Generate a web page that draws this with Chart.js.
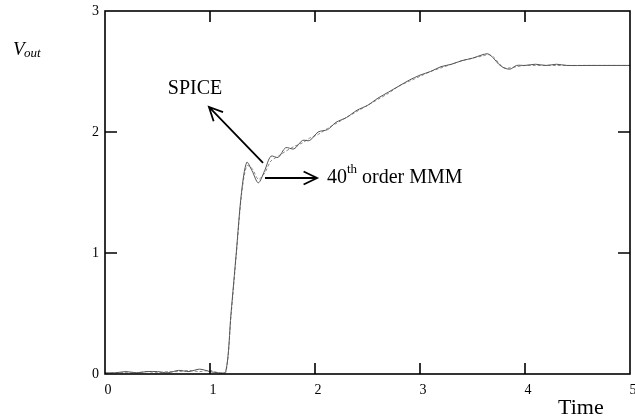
<!DOCTYPE html>
<html>
<head>
<meta charset="utf-8">
<script src="https://cdn.jsdelivr.net/npm/chart.js@4/dist/chart.umd.min.js"></script>
<style>
  body { margin: 0; background: #fff; }
</style>
</head>
<body>
<canvas id="voutChart" width="635" height="420"></canvas>
<script>
// Vout step response, SPICE vs 40th order MMM
var timeValues = [0, 0.1, 0.2, 0.3, 0.4, 0.5, 0.6, 0.7, 0.8, 0.9, 1.0, 1.08, 1.15, 1.2, 1.25, 1.3, 1.35, 1.4, 1.46, 1.52, 1.58, 1.65, 1.72, 1.8, 1.88, 1.95, 2.03, 2.12, 2.2, 2.3, 2.4, 2.5, 2.6, 2.7, 2.8, 2.9, 3.0, 3.1, 3.2, 3.3, 3.4, 3.5, 3.6, 3.65, 3.7, 3.75, 3.8, 3.86, 3.92, 4.0, 4.1, 4.2, 4.3, 4.4, 4.6, 4.8, 5.0];
var spiceValues = [0.01, 0.01, 0.02, 0.01, 0.02, 0.02, 0.01, 0.03, 0.02, 0.04, 0.02, 0.01, 0.02, 0.5, 1.0, 1.5, 1.75, 1.68, 1.58, 1.68, 1.8, 1.79, 1.87, 1.86, 1.93, 1.93, 2.0, 2.02, 2.08, 2.12, 2.18, 2.22, 2.28, 2.33, 2.38, 2.43, 2.47, 2.5, 2.54, 2.56, 2.59, 2.61, 2.64, 2.645, 2.61, 2.56, 2.53, 2.52, 2.55, 2.55, 2.56, 2.55, 2.56, 2.55, 2.55, 2.55, 2.55];
var mmmValues = [0.0, 0.01, 0.01, 0.01, 0.02, 0.01, 0.02, 0.02, 0.03, 0.02, 0.03, 0.01, 0.01, 0.48, 0.98, 1.48, 1.72, 1.7, 1.61, 1.66, 1.76, 1.8, 1.84, 1.88, 1.91, 1.95, 1.98, 2.03, 2.07, 2.12, 2.17, 2.22, 2.27, 2.32, 2.38, 2.42, 2.46, 2.5, 2.53, 2.56, 2.59, 2.61, 2.63, 2.64, 2.62, 2.57, 2.53, 2.53, 2.54, 2.55, 2.55, 2.55, 2.55, 2.55, 2.55, 2.55, 2.55];
var xTicks = [0, 1, 2, 3, 4, 5];
var yTicks = [0, 1, 2, 3];

var serif = '"Liberation Serif", "Times New Roman", serif';

function toPoints(values) {
  return timeValues.map(function (t, i) { return { x: t, y: values[i] }; });
}

function arrow(ctx, x1, y1, x2, y2) {
  var ang = Math.atan2(y2 - y1, x2 - x1);
  var len = 15, spread = 0.45;
  ctx.beginPath();
  ctx.moveTo(x1, y1);
  ctx.lineTo(x2, y2);
  ctx.moveTo(x2 - len * Math.cos(ang - spread), y2 - len * Math.sin(ang - spread));
  ctx.lineTo(x2, y2);
  ctx.lineTo(x2 - len * Math.cos(ang + spread), y2 - len * Math.sin(ang + spread));
  ctx.stroke();
}

// box with inward ticks, labels and arrows
var framePlugin = {
  id: 'frame',
  afterDatasetsDraw: function (chart) {
    var ctx = chart.ctx, a = chart.chartArea;
    var xs = chart.scales.x, ys = chart.scales.y;
    ctx.save();
    ctx.strokeStyle = '#000';
    ctx.lineWidth = 1.6;
    ctx.strokeRect(a.left, a.top, a.right - a.left, a.bottom - a.top);
    ctx.beginPath();
    xTicks.slice(1, -1).forEach(function (v) {
      var px = xs.getPixelForValue(v);
      ctx.moveTo(px, a.bottom); ctx.lineTo(px, a.bottom - 11);
      ctx.moveTo(px, a.top); ctx.lineTo(px, a.top + 11);
    });
    yTicks.slice(1, -1).forEach(function (v) {
      var py = ys.getPixelForValue(v);
      ctx.moveTo(a.left, py); ctx.lineTo(a.left + 12, py);
      ctx.moveTo(a.right, py); ctx.lineTo(a.right - 12, py);
    });
    ctx.stroke();

    // arrows
    ctx.lineWidth = 1.8;
    arrow(ctx, xs.getPixelForValue(1.505), ys.getPixelForValue(1.744), xs.getPixelForValue(0.99), ys.getPixelForValue(2.207));
    arrow(ctx, xs.getPixelForValue(1.524), ys.getPixelForValue(1.62), xs.getPixelForValue(2.02), ys.getPixelForValue(1.62));

    ctx.fillStyle = '#000';
    ctx.textBaseline = 'middle';
    ctx.font = '20px ' + serif;
    ctx.textAlign = 'center';
    ctx.fillText('SPICE', xs.getPixelForValue(0.857), ys.getPixelForValue(2.355));

    ctx.textAlign = 'left';
    var tx = xs.getPixelForValue(2.114), ty = ys.getPixelForValue(1.62);
    ctx.font = '20px ' + serif;
    ctx.fillText('40', tx, ty);
    var w = ctx.measureText('40').width;
    ctx.font = '13px ' + serif;
    ctx.fillText('th', tx + w, ty - 8);
    var w2 = ctx.measureText('th').width;
    ctx.font = '20px ' + serif;
    ctx.fillText(' order MMM', tx + w + w2, ty);

    // axis titles
    ctx.font = '22px ' + serif;
    ctx.textAlign = 'left';
    ctx.fillText('Time', 558, 408);
    ctx.font = 'italic 19px ' + serif;
    ctx.fillText('V', 13, 50);
    ctx.font = 'italic 13px ' + serif;
    ctx.fillText('out', 24, 54);
    ctx.restore();
  }
};

var ctx = document.getElementById('voutChart').getContext('2d');
var voutChart = new Chart(ctx, {
  type: 'line',
  data: {
    datasets: [{
      label: 'SPICE',
      data: toPoints(spiceValues),
      borderColor: '#555',
      borderWidth: 1,
      pointRadius: 0,
      tension: 0.3
    }, {
      label: '40th order MMM',
      data: toPoints(mmmValues),
      borderColor: '#888',
      borderWidth: 1,
      borderDash: [3, 2],
      pointRadius: 0,
      tension: 0.3
    }]
  },
  options: {
    responsive: false,
    animation: false,
    devicePixelRatio: 1,
    layout: { padding: { top: 11, right: 5, left: 0, bottom: 0 } },
    plugins: { legend: { display: false }, tooltip: { enabled: false } },
    scales: {
      x: {
        type: 'linear',
        min: 0, max: 5,
        afterBuildTicks: function (s) { s.ticks = xTicks.map(function (v) { return { value: v }; }); },
        afterFit: function (s) { s.height = 46; s.paddingLeft = 0; s.paddingRight = 0; },
        grid: { display: false, drawTicks: false },
        border: { display: false },
        ticks: { color: '#000', padding: 8, labelOffset: 3, maxRotation: 0, font: { family: serif, size: 14 } }
      },
      y: {
        min: 0, max: 3,
        afterBuildTicks: function (s) { s.ticks = yTicks.map(function (v) { return { value: v }; }); },
        afterFit: function (s) { s.width = 105; s.paddingTop = 0; s.paddingBottom = 0; },
        grid: { display: false, drawTicks: false },
        border: { display: false },
        ticks: { color: '#000', padding: 6, font: { family: serif, size: 14 } }
      }
    }
  },
  plugins: [framePlugin]
});
</script>
</body>
</html>
